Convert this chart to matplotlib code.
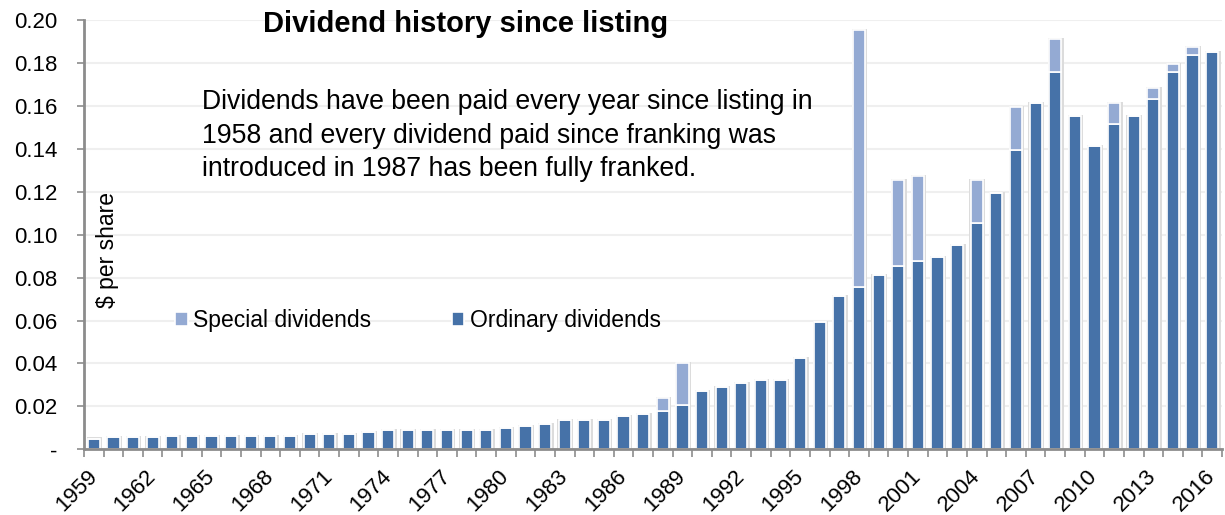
import numpy as np
import matplotlib.pyplot as plt
import matplotlib.ticker as mticker

plt.rcParams['font.family'] = ['Liberation Sans', 'DejaVu Sans']

# Dividend per share by year ($)
years = list(range(1959, 2017))
ordinary = [0.0050, 0.0057, 0.0057, 0.0059, 0.0060, 0.0060, 0.0060, 0.0060,
            0.0062, 0.0062, 0.0063, 0.0071, 0.0071, 0.0071, 0.0079, 0.0090,
            0.0090, 0.0090, 0.0090, 0.0090, 0.0090, 0.0097, 0.0107, 0.0118,
            0.0135, 0.0135, 0.0135, 0.0155, 0.0164, 0.0178, 0.0206, 0.0273,
            0.0290, 0.0307, 0.0323, 0.0323, 0.0424, 0.0593, 0.0714, 0.0755,
            0.0812, 0.0854, 0.0876, 0.0894, 0.0952, 0.1053, 0.1194, 0.1393,
            0.1613, 0.1758, 0.1553, 0.1413, 0.1514, 0.1553, 0.1633, 0.1758,
            0.1835, 0.1852]
special = [0.0] * 58
special[years.index(1988)] = 0.0062
special[years.index(1989)] = 0.0197
special[years.index(1998)] = 0.1198
special[years.index(2000)] = 0.0399
special[years.index(2001)] = 0.0397
special[years.index(2004)] = 0.0200
special[years.index(2006)] = 0.0200
special[years.index(2008)] = 0.0155
special[years.index(2011)] = 0.0099
special[years.index(2013)] = 0.0050
special[years.index(2014)] = 0.0039
special[years.index(2015)] = 0.0038

ord_col = '#4672A8'
spec_col = '#94AAD3'

ordinary = np.array(ordinary)
special = np.array(special)
x = np.arange(len(years))

fig = plt.figure(figsize=(12.25, 5.15), dpi=100)
ax = fig.add_axes([84/1225, 1-449.3/515, 1138/1225, 429.3/515])

# soft grey shadow behind bars
ax.bar(x + 0.03, ordinary + special + 0.0005, width=0.8, color='#dcdcdc',
       zorder=1, linewidth=0)
ax.bar(x, ordinary, width=0.62, color=ord_col, edgecolor='white',
       linewidth=1.2, zorder=2, label='Ordinary dividends')
ax.bar(x, special, width=0.62, bottom=ordinary, color=spec_col,
       edgecolor='white', linewidth=1.2, zorder=2, label='Special dividends')

ax.set_xlim(-0.5, len(years) - 0.5)
ax.set_ylim(0, 0.2)
ax.set_yticks(np.arange(0, 0.201, 0.02))
ax.yaxis.set_major_formatter(mticker.FuncFormatter(
    lambda v, p: '-' if abs(v) < 1e-9 else '%.2f' % v))
ax.yaxis.grid(True, color='#efefef', linewidth=1.5)
ax.set_axisbelow(True)

ax.set_xticks(x[::3])
ax.set_xticklabels([str(y) for y in years[::3]], rotation=45, ha='right',
                   va='center', rotation_mode='anchor')
ax.set_xticks(np.arange(-0.5, len(years)), minor=True)
ax.tick_params(axis='x', which='major', length=0, pad=17, labelsize=16)
ax.tick_params(axis='x', which='minor', length=6, width=1.2, color='#8c8c8c')
ax.tick_params(axis='y', length=5, width=1.2, color='#8c8c8c', labelsize=16,
               pad=14)

for s in ['top', 'right']:
    ax.spines[s].set_visible(False)
for s in ['left', 'bottom']:
    ax.spines[s].set_color('#8c8c8c')
    ax.spines[s].set_linewidth(2)

fig.text(465.5/1225, 1-31.7/515, 'Dividend history since listing',
         ha='center', va='baseline', fontsize=21, fontweight='bold')
fig.text(202/1225, 1-89/515,
         'Dividends have been paid every year since listing in\n'
         '1958 and every dividend paid since franking was\n'
         'introduced in 1987 has been fully franked.',
         ha='left', va='top', fontsize=19.2, linespacing=1.38)
fig.text(107/1225, 1-250/515, '$ per share', rotation=90, ha='center',
         va='center', fontsize=16.5)

h, l = ax.get_legend_handles_labels()
ax.legend(h[::-1], l[::-1], ncol=2, frameon=False, fontsize=16.5,
          loc='center left', bbox_to_anchor=(175/1225, 1-321/515),
          bbox_transform=fig.transFigure, borderpad=0, borderaxespad=0,
          handlelength=0.55, handleheight=0.55, handletextpad=0.25,
          columnspacing=3.5)

fig.savefig('out.png', dpi=100)
